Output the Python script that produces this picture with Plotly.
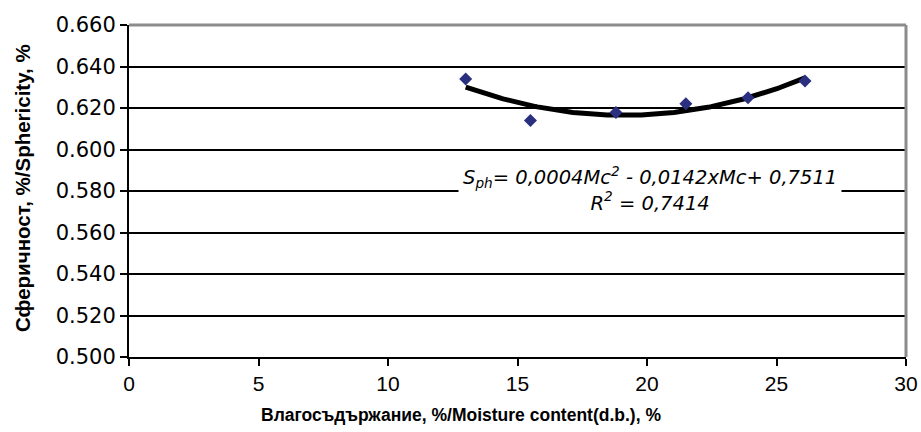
import numpy as np
import plotly.graph_objects as go

# Data
moisture = [13.0, 15.5, 18.8, 21.5, 23.9, 26.1]
sphericity = [0.634, 0.614, 0.6178, 0.622, 0.625, 0.633]

x_title = "Влагосъдържание, %/Moisture content(d.b.), %"
y_title = "Сферичност, %/Sphericity, %"
eq_text = "S<sub>ph</sub>= 0,0004Mc<sup>2</sup> - 0,0142xMc+ 0,7511<br>R<sup>2</sup> = 0,7414"

# Polynomial (order 2) trendline computed from the data
coef = np.polyfit(moisture, sphericity, 2)
xt = np.linspace(min(moisture), max(moisture), 200)
yt = np.polyval(coef, xt)

FONT = "Liberation Sans, Arial, sans-serif"
WFONT = "DejaVu Sans, sans-serif"

fig = go.Figure()
fig.add_trace(go.Scatter(x=xt, y=yt, mode="lines",
                         line=dict(color="black", width=5), hoverinfo="skip",
                         showlegend=False))
fig.add_trace(go.Scatter(x=moisture, y=sphericity, mode="markers",
                         marker=dict(symbol="diamond", size=10, color="#2B2F80"),
                         showlegend=False))

fig.update_layout(
    width=921, height=432,
    margin=dict(l=129, r=15, t=25, b=75),
    paper_bgcolor="white", plot_bgcolor="white",
    font=dict(family=FONT, color="black"),
    xaxis=dict(range=[0, 30], dtick=5, tick0=0, showgrid=False, automargin=False,
               showline=True, linecolor="black", linewidth=2,
               ticks="outside", ticklen=7, tickwidth=1.5, tickcolor="black",
               tickfont=dict(size=21, family=FONT), zeroline=False),
    yaxis=dict(range=[0.5, 0.66], dtick=0.02, tick0=0.5, tickformat=".3f",
               automargin=False,
               showgrid=True, gridcolor="black", gridwidth=1.5,
               showline=True, linecolor="black", linewidth=2,
               ticks="outside", ticklen=7, tickwidth=1.5, tickcolor="black",
               tickfont=dict(size=21, family=WFONT), zeroline=False),
    shapes=[
        dict(type="line", xref="paper", yref="paper", x0=0, x1=1, y0=1, y1=1,
             line=dict(color="#8C8C8C", width=3)),
        dict(type="line", xref="paper", yref="paper", x0=1, x1=1, y0=0, y1=1,
             line=dict(color="#8C8C8C", width=3)),
    ],
    annotations=[
        dict(text=f"<b>{x_title}</b>", xref="paper", yref="paper",
             x=(461 - 129) / 777, y=-(415 - 357) / 332, xanchor="center", yanchor="middle",
             showarrow=False, font=dict(size=17.5, family=FONT)),
        dict(text=f"<b>{y_title}</b>", xref="paper", yref="paper",
             x=-(129 - 22) / 777, y=(357 - 188) / 332, xanchor="center", yanchor="middle",
             textangle=-90, showarrow=False, font=dict(size=20.5, family=FONT)),
        dict(text=f"<i>{eq_text}</i>", x=20.1, y=0.581, xref="x", yref="y",
             xanchor="center", yanchor="middle", showarrow=False,
             bgcolor="white", borderpad=4,
             font=dict(size=19.5, family=WFONT)),
    ],
)

fig.write_html("out.html", config={"displayModeBar": False},
               post_script="document.body.style.margin='0';")
